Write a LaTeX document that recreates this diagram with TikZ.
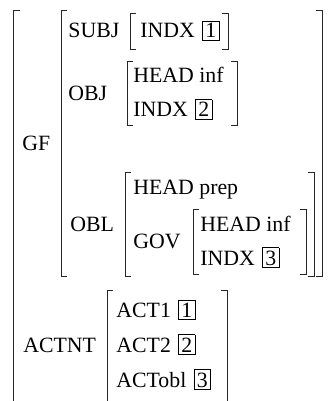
\documentclass[tikz,border=0pt]{standalone}
\usepackage{fontspec}
\setmainfont{Liberation Serif}
\usepackage{tikz}
\usetikzlibrary{positioning}
\newcommand{\ibox}[1]{\hspace{1pt}{\setlength{\fboxsep}{1.1pt}\setlength{\fboxrule}{0.45pt}\fbox{#1}}}
\newcommand{\lbrak}[3]{\draw[brk] (#1+6,#2) -- (#1,#2) -- (#1,#3) -- (#1+6,#3);}
\newcommand{\rbrak}[3]{\draw[brk] (#1-6,#2) -- (#1,#2) -- (#1,#3) -- (#1-6,#3);}

\begin{document}
\begin{tikzpicture}[x=0.5pt,y=-0.5pt,
  attr/.style={anchor=base west,inner sep=0pt,font=\fontsize{10.9}{13}\selectfont},
  brk/.style={line width=0.42pt,draw=black!85}]

  \useasboundingbox (0,0) rectangle (329,401);
  \clip (0,0) rectangle (329,401);

  % outer matrix, cut off at the bottom and right
  \draw[brk] (20,10) -- (13,10) -- (13,401);
  \node[attr] (gf) at (22,150) {GF};

  % value of GF
  \lbrak{61}{10}{276}
  \rbrak{322}{10}{276}

  \node[attr] (subj) at (68,38) {SUBJ};
  \lbrak{130}{13}{49}
  \node[attr] (subjindx) at (140,38) {INDX \ibox{1}};
  \rbrak{228}{13}{49}

  \node[attr] (obj) at (68,100) {OBJ};
  \lbrak{127}{61}{125}
  \node[attr] (objhead) at (133,83) {HEAD inf};
  \node[attr] (objindx) at (133,117) {INDX \ibox{2}};
  \rbrak{237}{61}{125}

  \node[attr] (obl) at (70,231) {OBL};
  \lbrak{125}{172}{276}
  \node[attr] (oblhead) at (133,194) {HEAD prep};
  \node[attr] (gov) at (133,248) {GOV};
  \rbrak{314}{172}{276}

  \lbrak{193}{209}{274}
  \node[attr] (govhead) at (200,231) {HEAD inf};
  \node[attr] (govindx) at (200,265) {INDX \ibox{3}};
  \rbrak{306}{209}{274}

  % ACTNT, cut off at the bottom
  \node[attr] (actnt) at (23,352) {ACTNT};
  \draw[brk] (113,290) -- (107,290) -- (107,401);
  \node[attr] (act1) at (116,317) {ACT1 \ibox{1}};
  \node[attr] (act2) at (116,352) {ACT2 \ibox{2}};
  \node[attr] (actobl) at (116,387) {ACTobl \ibox{3}};
  \draw[brk] (221,290) -- (227,290) -- (227,401);
\end{tikzpicture}
\end{document}
